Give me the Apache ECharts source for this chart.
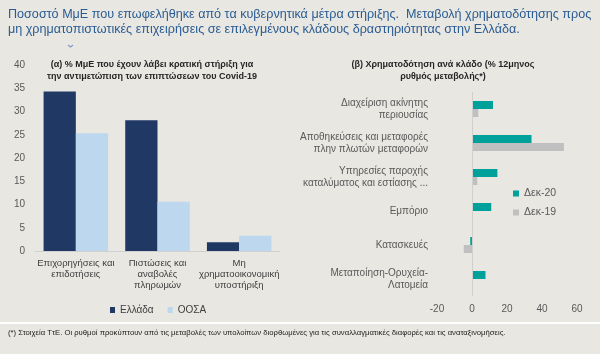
<!DOCTYPE html>
<html>
<head>
<meta charset="utf-8">
<script src="https://cdn.jsdelivr.net/npm/echarts@6/dist/echarts.min.js"></script>
<style>
  html, body { margin: 0; padding: 0; background: #E8E7E2; }
  #chart { width: 600px; height: 354px; }
</style>
</head>
<body>
<div id="chart"></div>
<script>
// (α) % ΜμΕ με κρατική στήριξη
const supportTypes = ['Επιχορηγήσεις και\nεπιδοτήσεις', 'Πιστώσεις και\nαναβολές\nπληρωμών', 'Μη\nχρηματοοικονομική\nυποστήριξη'];
const greece = [34.3, 28.1, 1.9];
const oecd = [25.3, 10.6, 3.3];

// (β) Χρηματοδότηση ανά κλάδο
const sectors = [
  'Διαχείριση ακίνητης\nπεριουσίας',
  'Αποθηκεύσεις και μεταφορές\nπλην πλωτών μεταφορών',
  'Υπηρεσίες παροχής\nκαταλύματος και εστίασης ...',
  'Εμπόριο',
  'Κατασκευές',
  'Μεταποίηση-Ορυχεία-\nΛατομεία'
];
const dec20 = [12, 34, 14.5, 11, -1, 7.7];
const dec19 = [3.6, 52.5, 3, 0.3, -4.7, 0.2];

const font = '"Liberation Sans", Arial, sans-serif';
const chart = echarts.init(document.getElementById('chart'));

chart.setOption({
  backgroundColor: '#E8E7E2',
  animation: false,
  textStyle: { fontFamily: font },
  graphic: [
    { type: 'text', x: 8, y: 7, style: {
      text: 'Ποσοστό ΜμΕ που επωφελήθηκε από τα κυβερνητικά μέτρα στήριξης.  Μεταβολή χρηματοδότησης προς\nμη χρηματοπιστωτικές επιχειρήσεις σε επιλεγμένους κλάδους δραστηριότητας στην Ελλάδα.',
      font: '12.6px ' + font, fill: '#2A5C93', lineHeight: 15 } },
    { type: 'polyline', shape: { points: [[68, 45], [70.5, 47], [73, 45]] },
      style: { stroke: '#7F9CC0', lineWidth: 1.2, fill: null } },
    { type: 'text', x: 152, y: 59, style: {
      text: '(α) % ΜμΕ που έχουν λάβει κρατική στήριξη για\nτην αντιμετώπιση των επιπτώσεων του Covid-19',
      font: 'bold 9px ' + font, fill: '#262626', align: 'center', lineHeight: 12 } },
    { type: 'text', x: 443, y: 59, style: {
      text: '(β) Χρηματοδότηση ανά κλάδο (% 12μηνος\nρυθμός μεταβολής*)',
      font: 'bold 9px ' + font, fill: '#262626', align: 'center', lineHeight: 12 } },
    { type: 'rect', shape: { x: 0, y: 322, width: 600, height: 2 }, style: { fill: '#FFFFFF' } },
    { type: 'text', x: 8, y: 329, style: {
      text: '(*) Στοιχεία ΤτΕ. Οι ρυθμοί προκύπτουν από τις μεταβολές των υπολοίπων διορθωμένες για τις συναλλαγματικές διαφορές και τις αναταξινομήσεις.',
      font: '7.7px ' + font, fill: '#1A1A1A' } }
  ],
  legend: [
    { data: ['Ελλάδα', 'ΟΟΣΑ'], left: 105, top: 300, itemWidth: 5, itemHeight: 6, itemGap: 14,
      icon: 'rect', textStyle: { fontSize: 10, color: '#404040', fontFamily: font } },
    { data: ['Δεκ-20', 'Δεκ-19'], orient: 'vertical', left: 508, top: 183, itemWidth: 6, itemHeight: 6,
      itemGap: 8, icon: 'rect', textStyle: { fontSize: 10.5, color: '#595959', fontFamily: font } }
  ],
  grid: [
    { left: 35, top: 65, width: 245, height: 186 },
    { left: 437, top: 92, width: 140, height: 204 }
  ],
  xAxis: [
    { type: 'category', gridIndex: 0, data: supportTypes,
      axisLine: { lineStyle: { color: '#D0D0D0' } }, axisTick: { show: false },
      axisLabel: { fontSize: 9.5, color: '#404040', lineHeight: 11, margin: 7, interval: 0 } },
    { type: 'value', gridIndex: 1, min: -20, max: 60, interval: 20,
      axisLine: { show: false }, axisTick: { show: false }, splitLine: { show: false },
      axisLabel: { fontSize: 10, color: '#595959', margin: 8 } }
  ],
  yAxis: [
    { type: 'value', gridIndex: 0, min: 0, max: 40, interval: 5,
      axisLine: { show: false }, axisTick: { show: false }, splitLine: { show: false },
      axisLabel: { fontSize: 10, color: '#595959', margin: 10 } },
    { type: 'category', gridIndex: 1, data: sectors, inverse: true,
      axisLine: { show: false }, axisTick: { show: false },
      axisLabel: { fontSize: 10, color: '#595959', lineHeight: 12, margin: 9, align: 'right' } }
  ],
  series: [
    { name: 'Ελλάδα', type: 'bar', xAxisIndex: 0, yAxisIndex: 0, data: greece,
      itemStyle: { color: '#1F3864' }, barGap: '0%', barCategoryGap: '21%' },
    { name: 'ΟΟΣΑ', type: 'bar', xAxisIndex: 0, yAxisIndex: 0, data: oecd,
      itemStyle: { color: '#BDD7EE' } },
    { name: 'Δεκ-20', type: 'bar', xAxisIndex: 1, yAxisIndex: 1, data: dec20,
      itemStyle: { color: '#00A19A' }, barWidth: 8, barGap: '0%',
      markLine: { silent: true, symbol: 'none', label: { show: false },
        lineStyle: { color: '#D0D0D0', type: 'solid', width: 1 }, data: [{ xAxis: 0 }] } },
    { name: 'Δεκ-19', type: 'bar', xAxisIndex: 1, yAxisIndex: 1, data: dec19,
      itemStyle: { color: '#C0C0C0' }, barWidth: 8 }
  ]
});
</script>
</body>
</html>
